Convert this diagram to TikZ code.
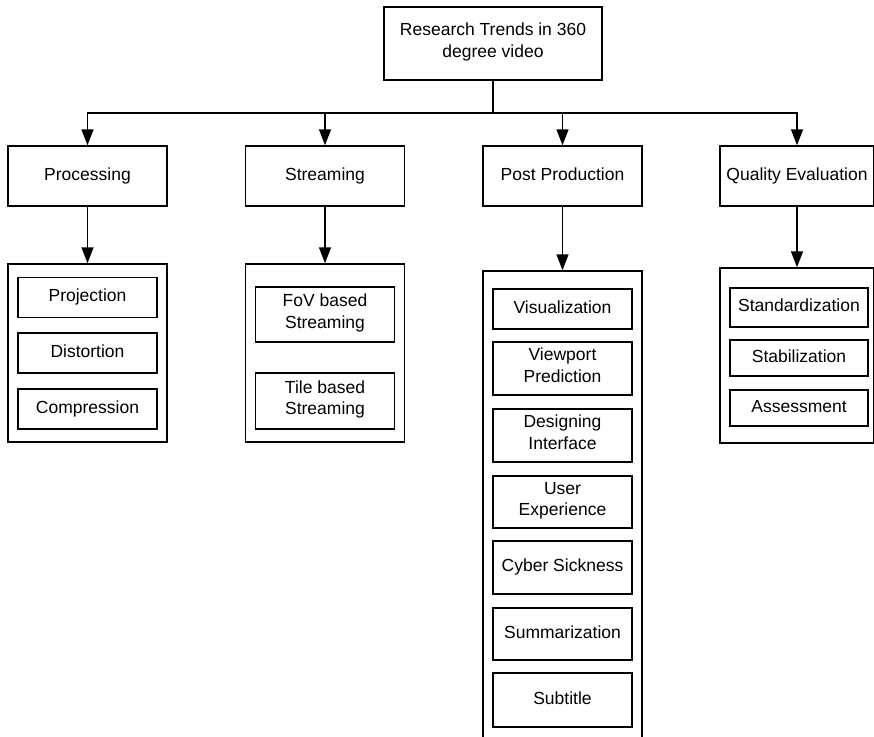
\documentclass[tikz,border=0pt]{standalone}
\usepackage{fontspec}
\setmainfont{Liberation Sans}
\usetikzlibrary{arrows.meta}

\begin{document}
\begin{tikzpicture}[x=1pt, y=-1pt, line width=1.5pt,
    >={Triangle[length=16pt,width=12pt]},
    node font=\fontsize{17.5}{21.5}\selectfont,
    box/.style = {draw, rectangle, inner sep=0pt, align=center,
        execute at begin node=\strut, execute at end node=\strut},
    head/.style = {box, minimum width=159pt, minimum height=60pt},
    group/.style = {box, minimum width=159pt},
    item/.style = {box, minimum width=139pt}]
    \useasboundingbox (0,0) rectangle (874,736);

    % Root
    \node[box, minimum width=218pt, minimum height=73pt] (root) at (493, 43.5) {Research Trends in 360\\degree video};
    \coordinate (bus) at (493, 113);

    % Topics
    \node[head] (proc) at (87.5, 176) {Processing};
    \node[head] (strm) at (325, 176) {Streaming};
    \node[head] (post) at (562.5, 176) {Post Production};
    \node[head, minimum width=154pt] (qual) at (797, 176) {Quality Evaluation};

    % Groups
    \node[group, minimum height=178pt] (procgrp) at (87.5, 353) {};
    \node[group, minimum height=178pt] (strmgrp) at (325, 353) {};
    \node[group, minimum height=471pt] (postgrp) at (562.5, 506.5) {};
    \node[group, minimum width=154pt, minimum height=175pt] (qualgrp) at (797, 355.5) {};

    % Processing items
    \node[item, minimum height=40pt] (projection) at (87.5, 297.5) {Projection};
    \node[item, minimum height=40pt] (distortion) at (87.5, 353) {Distortion};
    \node[item, minimum height=40pt] (compression) at (87.5, 409) {Compression};

    % Streaming items
    \node[item, minimum height=55pt] (fov) at (325, 314.5) {FoV based\\Streaming};
    \node[item, minimum height=56pt] (tile) at (325, 401) {Tile based\\Streaming};

    % Post production items
    \node[item, minimum height=40pt] (visual) at (562.5, 309) {Visualization};
    \node[item, minimum height=53pt] (viewport) at (562.5, 368.5) {Viewport\\Prediction};
    \node[item, minimum height=53pt] (interface) at (562.5, 435.5) {Designing\\Interface};
    \node[item, minimum height=52pt] (experience) at (562.5, 502) {User\\Experience};
    \node[item, minimum height=53pt] (sickness) at (562.5, 567.5) {Cyber Sickness};
    \node[item, minimum height=52pt] (summary) at (562.5, 634) {Summarization};
    \node[item, minimum height=54pt] (subtitle) at (562.5, 700) {Subtitle};

    % Quality evaluation items
    \node[item, minimum width=138pt, minimum height=39pt] (standard) at (799, 307.5) {Standardization};
    \node[item, minimum width=138pt, minimum height=36pt] (stabil) at (799, 358) {Stabilization};
    \node[item, minimum width=138pt, minimum height=36pt] (assess) at (799, 408) {Assessment};

    % Edges
    \draw (root) -- (bus);
    \draw[->] (bus) -| (proc);
    \draw[->] (bus) -| (strm);
    \draw[->] (bus) -| (post);
    \draw[->] (bus) -| (qual);
    \draw[->] (proc) -- (procgrp);
    \draw[->] (strm) -- (strmgrp);
    \draw[->] (post) -- (postgrp);
    \draw[->] (qual) -- (qualgrp);

\end{tikzpicture}
\end{document}
